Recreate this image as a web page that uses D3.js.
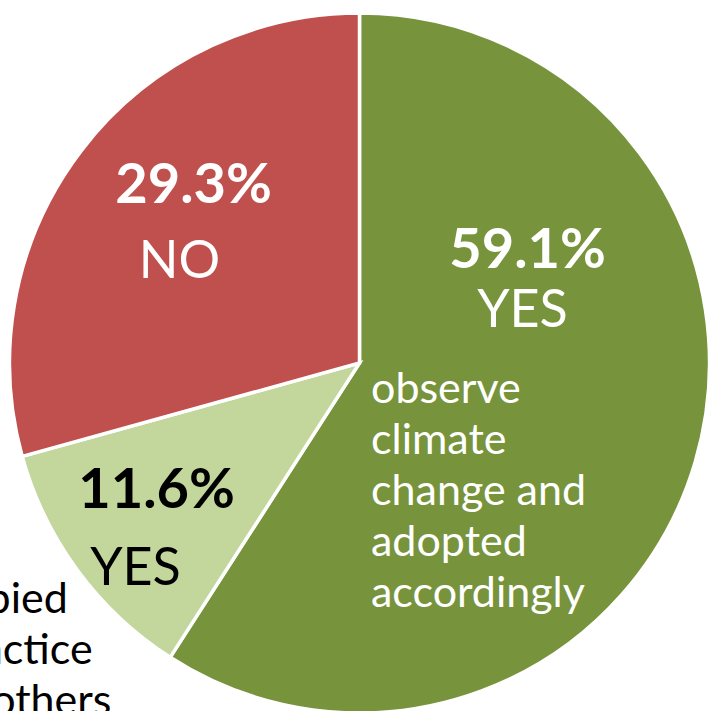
<!DOCTYPE html>
<html>
<head>
<meta charset="utf-8">
<script src="https://cdn.jsdelivr.net/npm/d3@7"></script>
<style>
  html, body { margin: 0; padding: 0; background: #fff; overflow: hidden; }
  svg { display: block; }
</style>
</head>
<body>
<svg id="chart" width="710" height="711"></svg>
<script>
// ---- data ----
const categories = ["YES", "YES", "NO"];
const values = [59.1, 11.6, 29.3];
const descriptions = [
  ["observe", "climate", "change and", "adopted", "accordingly"],
  ["copied", "practice", "of others"],
  []
];
const colors = ["#77933C", "#C3D69B", "#C0504D"];
const labelColors = ["#FFFFFF", "#000000", "#FFFFFF"];

// ---- layout ----
const cx = 359.5, cy = 363, R = 350;
const svg = d3.select("#chart");
const g = svg.append("g").attr("transform", `translate(${cx},${cy})`);

const pie = d3.pie().sort(null).value(d => d);
const arcs = pie(values);
const arc = d3.arc().innerRadius(0).outerRadius(R);

g.selectAll("path.slice")
  .data(arcs)
  .join("path")
  .attr("class", "slice")
  .attr("d", arc)
  .attr("fill", (d, i) => colors[i])
  .attr("stroke", "#fff")
  .attr("stroke-width", 3.5)
  .attr("stroke-linejoin", "miter");

// label placement (page coordinates)
const labelPos = [
  { pct: [527.5, 268], cat: [522.5, 327], desc: [371, 403] },
  { pct: [156.5, 508], cat: [135.5, 585], desc: [-58, 613] },
  { pct: [193.5, 203], cat: [179.5, 278], desc: null }
];
const lineH = 51;
const fontFam = "Lato, 'Open Sans', sans-serif";

const lbl = svg.append("g");
arcs.forEach((a, i) => {
  const p = labelPos[i];
  lbl.append("text")
    .attr("x", p.pct[0]).attr("y", p.pct[1])
    .attr("text-anchor", "middle")
    .attr("font-family", fontFam)
    .attr("font-weight", "bold")
    .attr("font-size", 56)
    .attr("fill", labelColors[i])
    .text(values[i].toFixed(1) + "%");
  lbl.append("text")
    .attr("x", p.cat[0]).attr("y", p.cat[1])
    .attr("text-anchor", "middle")
    .attr("font-family", fontFam)
    .attr("font-size", 52)
    .attr("fill", labelColors[i])
    .text(categories[i]);
  if (p.desc) {
    const t = lbl.append("text")
      .attr("font-family", fontFam)
      .attr("font-size", 43)
      .attr("fill", i === 0 ? "#FFFFFF" : "#000000")
      .attr("text-anchor", "start");
    descriptions[i].forEach((line, k) => {
      t.append("tspan")
        .attr("x", p.desc[0])
        .attr("y", p.desc[1] + k * lineH)
        .text(line);
    });
  }
});
</script>
</body>
</html>
